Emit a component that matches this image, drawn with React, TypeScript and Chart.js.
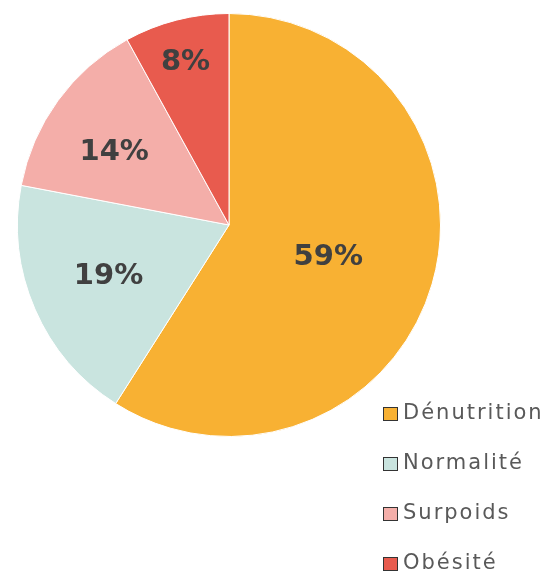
import React, { useEffect, useRef } from "react";
import { Chart, registerables } from "chart.js";

Chart.register(...registerables);

const categories = ["Dénutrition", "Normalité", "Surpoids", "Obésité"];
const values = [59, 19, 14, 8];
const colors = ["#F8B133", "#C9E4DF", "#F4AEA9", "#E85B4E"];
const labelRadiusFactors = [0.49, 0.615, 0.648, 0.805];
const labelAngleOffsetsDeg = [0.5, 1.3, -2.9, -0.4];

const pctLabels = {
  id: "pctLabels",
  afterDatasetsDraw(chart: any) {
    const { ctx } = chart;
    const meta = chart.getDatasetMeta(0);
    const data = chart.data.datasets[0].data as number[];
    const total = data.reduce((a, b) => a + b, 0);
    ctx.save();
    ctx.font = "bold 29px 'DejaVu Sans'";
    ctx.fillStyle = "#404040";
    ctx.textAlign = "center";
    ctx.textBaseline = "middle";
    meta.data.forEach((arc: any, i: number) => {
      const p = arc.getProps(["x", "y", "startAngle", "endAngle", "outerRadius"], true);
      const mid = (p.startAngle + p.endAngle) / 2 + (labelAngleOffsetsDeg[i] * Math.PI) / 180;
      const r = p.outerRadius * labelRadiusFactors[i];
      const x = p.x + Math.cos(mid) * r;
      const y = p.y + Math.sin(mid) * r + 2.5;
      ctx.fillText(Math.round((data[i] / total) * 100) + "%", x, y);
    });
    ctx.restore();
  },
};

const customLegend = {
  id: "customLegend",
  afterDraw(chart: any) {
    const { ctx } = chart;
    const labels = chart.data.labels as string[];
    const bg = chart.data.datasets[0].backgroundColor as string[];
    ctx.save();
    ctx.font = "21px 'DejaVu Sans'";
    (ctx as any).letterSpacing = "2px";
    ctx.textAlign = "left";
    ctx.textBaseline = "middle";
    labels.forEach((lab, i) => {
      const cy = 414 + i * 50;
      ctx.fillStyle = bg[i];
      ctx.fillRect(383.5, cy - 6.5, 14, 13);
      ctx.strokeStyle = "#333333";
      ctx.lineWidth = 1;
      ctx.strokeRect(383.5, cy - 6.5, 14, 13);
      ctx.fillStyle = "#595959";
      ctx.fillText(lab, 403, cy);
    });
    ctx.restore();
  },
};

export default function App() {
  const ref = useRef<HTMLCanvasElement>(null);
  useEffect(() => {
    if (!ref.current) return;
    const chart = new Chart(ref.current, {
      type: "pie",
      data: {
        labels: categories,
        datasets: [
          {
            data: values,
            backgroundColor: colors,
            borderColor: "#ffffff",
            borderWidth: 1,
          },
        ],
      },
      options: {
        animation: false,
        responsive: false,
        layout: { padding: { left: 17, top: 13, right: 118, bottom: 137 } },
        plugins: {
          legend: { display: false },
          tooltip: { enabled: false },
        },
      },
      plugins: [pctLabels, customLegend],
    });
    return () => chart.destroy();
  }, []);
  return (
    <div style={{ position: "fixed", left: 0, top: 0, width: 559, height: 574, background: "#fff" }}>
      <canvas ref={ref} width={559} height={574} />
    </div>
  );
}
